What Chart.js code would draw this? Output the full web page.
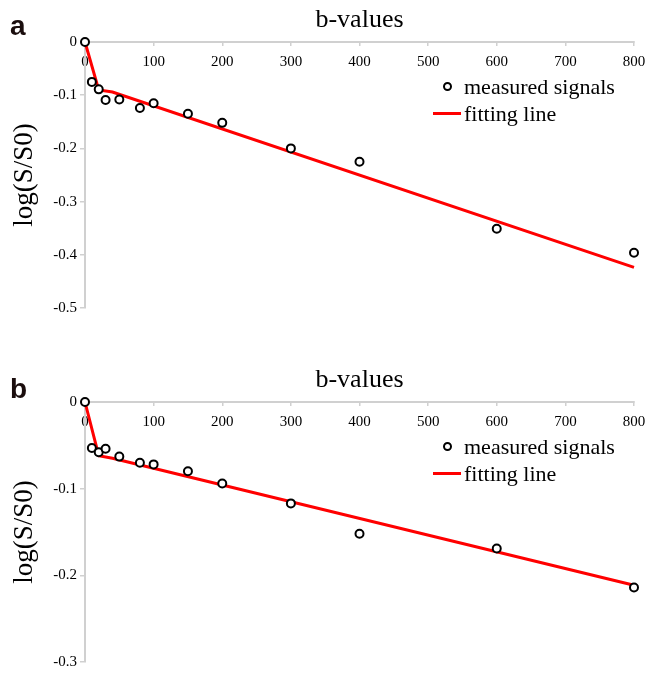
<!DOCTYPE html>
<html>
<head>
<meta charset="utf-8">
<script src="https://cdn.jsdelivr.net/npm/chart.js@4.4.1/dist/chart.umd.min.js"></script>
<style>
  body { margin: 0; background: #fff; }
  .panel { position: relative; width: 646px; height: 337px; }
  .tag { position: absolute; left: 10px; font: bold 28px 'Liberation Sans', Arial, sans-serif; line-height: 28px; color: #1a0d0d; }
  .legend { position: absolute; font: 22px 'Liberation Serif', 'Times New Roman', serif; color: #000; }
  .legend .row { display: flex; align-items: center; height: 27px; }
  .legend .mark { width: 28px; height: 27px; display: flex; align-items: center; justify-content: center; margin-right: 3px; }
  .legend .dot { width: 5px; height: 5px; border: 2px solid #000; border-radius: 50%; background: #fff; }
  .legend .seg { width: 28px; height: 3px; }
</style>
</head>
<body>
<div class="panel">
  <canvas id="chartA" width="646" height="337"></canvas>
  <div class="tag" style="top: 12px;">a</div>
  <div class="legend" id="legendA"></div>
</div>
<div class="panel">
  <canvas id="chartB" width="646" height="337"></canvas>
  <div class="tag" style="top: 38px;">b</div>
  <div class="legend" id="legendB"></div>
</div>
<script>
// b-values shared by both panels
const bValues = [0, 10, 20, 30, 50, 80, 100, 150, 200, 300, 400, 600, 800];
const xTicks = [0, 100, 200, 300, 400, 500, 600, 700, 800];

// panel a
const signalsA = [0, -0.075, -0.089, -0.109, -0.108, -0.124, -0.115, -0.135, -0.152, -0.200, -0.225, -0.351, -0.396];
const fitXA = [0, 20, 40, 800];
const fitYA = [0, -0.090, -0.094, -0.4235];
const yTicksA = [0, -0.1, -0.2, -0.3, -0.4, -0.5];

// panel b
const signalsB = [0, -0.053, -0.058, -0.054, -0.063, -0.070, -0.072, -0.080, -0.094, -0.117, -0.152, -0.169, -0.214];
const fitXB = [0, 20, 40, 800];
const fitYB = [0, -0.062, -0.065, -0.2115];
const yTicksB = [0, -0.1, -0.2, -0.3];

const serif = "'Liberation Serif', 'Times New Roman', serif";

// legend drawn as html next to the plot, built from the datasets
const htmlLegend = {
  id: 'htmlLegend',
  afterUpdate(chart, args, opts) {
    const box = document.getElementById(opts.containerID);
    box.innerHTML = '';
    box.style.left = (chart.chartArea.right - 201) + 'px';
    box.style.top = (chart.chartArea.top + 31) + 'px';
    chart.data.datasets.forEach(ds => {
      const row = document.createElement('div');
      row.className = 'row';
      const mark = document.createElement('span');
      mark.className = 'mark';
      const sym = document.createElement('span');
      if (ds.showLine) {
        sym.className = 'seg';
        sym.style.background = ds.borderColor;
      } else {
        sym.className = 'dot';
      }
      mark.appendChild(sym);
      const txt = document.createElement('span');
      txt.textContent = ds.label;
      row.appendChild(mark);
      row.appendChild(txt);
      box.appendChild(row);
    });
  }
};

function makePanel(canvasId, legendId, signals, fitX, fitY, yTicks, padTop, padBottom) {
  return new Chart(document.getElementById(canvasId), {
    type: 'scatter',
    data: {
      datasets: [
        {
          label: 'measured signals',
          data: bValues.map((b, i) => ({ x: b, y: signals[i] })),
          pointRadius: 4,
          pointBorderWidth: 2,
          borderColor: '#000',
          backgroundColor: '#fff',
          order: 0,
          clip: false
        },
        {
          label: 'fitting line',
          data: fitX.map((b, i) => ({ x: b, y: fitY[i] })),
          showLine: true,
          pointRadius: 0,
          borderColor: '#ff0000',
          borderWidth: 3,
          fill: false,
          order: 1,
          clip: false
        }
      ]
    },
    options: {
      responsive: false,
      animation: false,
      layout: { padding: { top: padTop, right: 12, bottom: padBottom, left: 0 } },
      plugins: {
        legend: { display: false },
        tooltip: { enabled: false },
        htmlLegend: { containerID: legendId }
      },
      scales: {
        x: {
          type: 'linear',
          position: 'top',
          min: 0,
          max: 800,
          afterBuildTicks: s => { s.ticks = xTicks.map(v => ({ value: v })); },
          afterFit: s => { s.height = 42; s.paddingLeft = 0; s.paddingRight = 0; },
          grid: { drawOnChartArea: false, tickLength: -4, color: '#d0d0d0', lineWidth: 1.5 },
          border: { color: '#d0d0d0', width: 2 },
          // labels sit under the axis line, inside the plot
          ticks: { mirror: true, padding: 11, color: '#000', font: { family: serif, size: 15 }, maxRotation: 0, autoSkip: false },
          title: { display: true, text: 'b-values', color: '#000', font: { family: serif, size: 26 }, padding: { top: 5, bottom: 0 } }
        },
        y: {
          type: 'linear',
          min: yTicks[yTicks.length - 1],
          max: 0,
          afterBuildTicks: s => { s.ticks = yTicks.map(v => ({ value: v })); },
          afterFit: s => { s.width = 85; },
          grid: { drawOnChartArea: false, tickLength: 5, color: '#d0d0d0', lineWidth: 1.5 },
          border: { color: '#d0d0d0', width: 2 },
          ticks: {
            padding: 3,
            color: '#000',
            font: { family: serif, size: 15 },
            callback: v => v === 0 ? '0' : v.toFixed(1)
          },
          title: { display: true, text: 'log(S/S0)', color: '#000', font: { family: serif, size: 27 }, padding: { top: 9, bottom: 0 } }
        }
      }
    },
    plugins: [htmlLegend]
  });
}

makePanel('chartA', 'legendA', signalsA, fitXA, fitYA, yTicksA, 0, 29);
makePanel('chartB', 'legendB', signalsB, fitXB, fitYB, yTicksB, 23, 6);
</script>
</body>
</html>
